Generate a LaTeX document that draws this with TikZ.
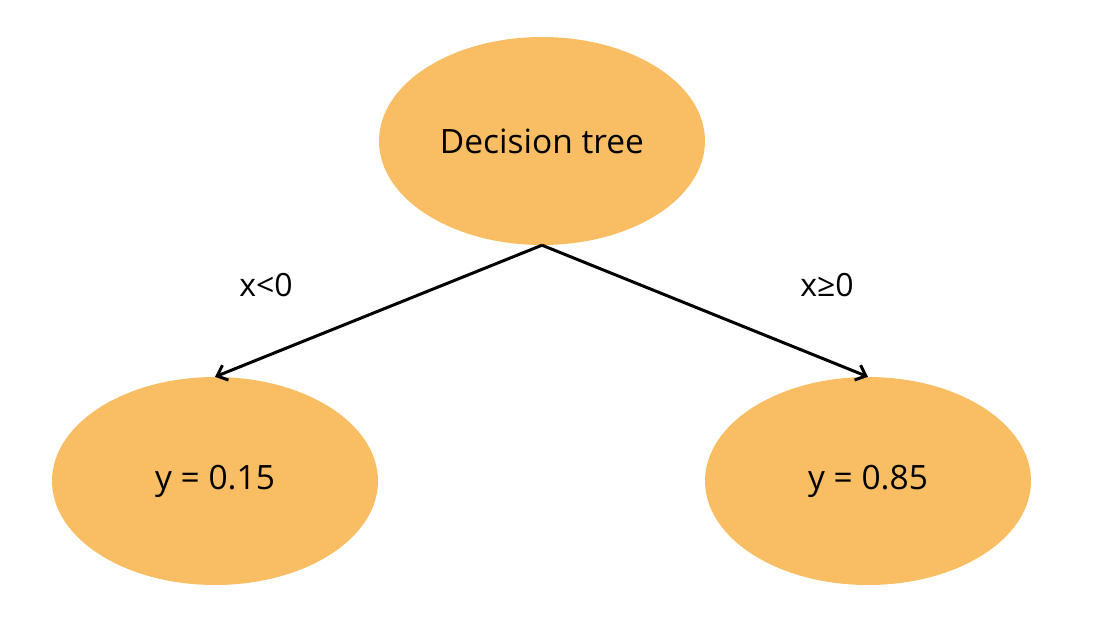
\documentclass[tikz,border=0pt]{standalone}
\usepackage{fontspec}
\setmainfont{Open Sans}
\usetikzlibrary{arrows.meta,shapes.geometric}
\definecolor{nodefill}{HTML}{F9BE63}
\begin{document}
\begin{tikzpicture}[x=1pt,y=-1pt,
  blob/.style={ellipse, fill=nodefill, minimum width=326pt, minimum height=208pt, inner sep=0pt, font=\fontsize{33.5}{38}\selectfont},
  edge/.style={line width=3pt, -{Straight Barb[length=9pt,width=16pt,line width=3pt]}},
  lbl/.style={font=\fontsize{32}{36}\selectfont}]
\useasboundingbox (0,0) rectangle (1096,622);
\node[blob] (root) at (542,141) {Decision tree};
\node[blob] (left) at (215,481) {y = 0.15};
\node[blob] (right) at (868,481) {y = 0.85};
\draw[edge] (root.south) -- (left.north);
\draw[edge] (root.south) -- (right.north);
\node[lbl] (l1) at (266,285) {x<0};
\node[lbl] (l2) at (827,285) {x≥0};
\end{tikzpicture}
\end{document}
